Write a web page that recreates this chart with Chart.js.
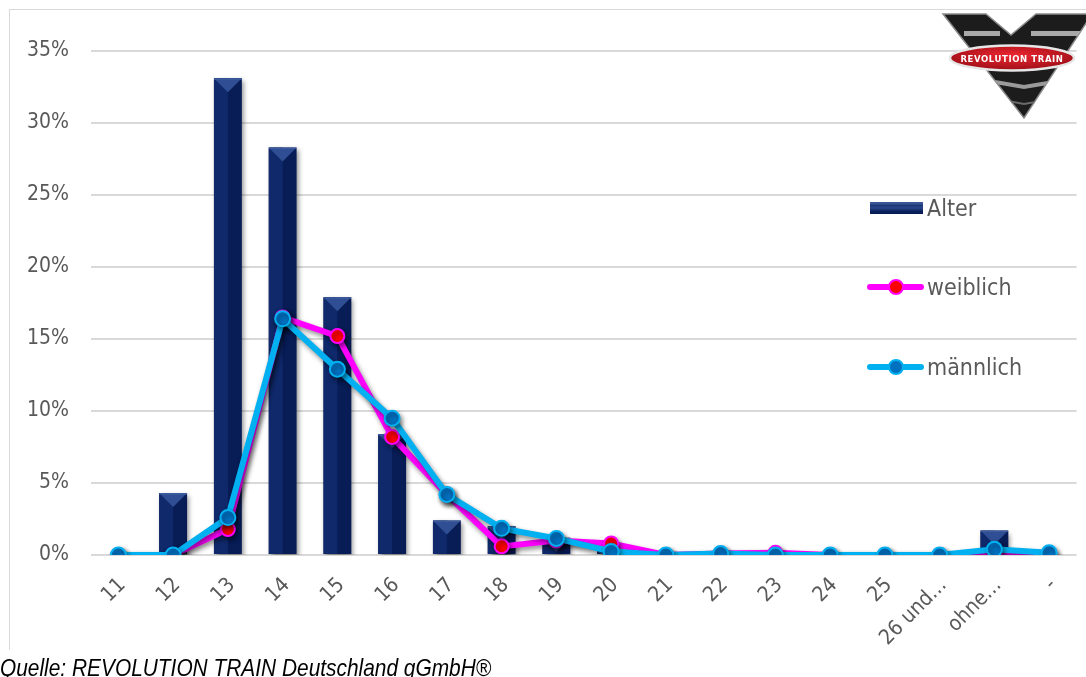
<!DOCTYPE html>
<html lang="de">
<head>
<meta charset="utf-8">
<title>Alter – weiblich / männlich</title>
<script src="https://cdn.jsdelivr.net/npm/chart.js@4.4.1/dist/chart.umd.min.js"></script>
<style>
  html, body { margin: 0; padding: 0; background: #fff; }
  body { width: 1086px; height: 677px; position: relative; overflow: hidden;
         font-family: "DejaVu Sans Condensed", "Liberation Sans Narrow", "DejaVu Sans", sans-serif; }
  #frame { position: absolute; left: 9px; top: 9px; width: 1100px; height: 640px;
           border-left: 1px solid #d9d9d9; border-top: 1px solid #d9d9d9; }
  #chart-box { position: absolute; left: 0; top: 0; width: 1086px; height: 677px; }
  .lg-text { position: absolute; left: 927px; height: 28px; line-height: 28px; font-size: 23px; color: #595959; }
  .lg-bar { position: absolute; left: 870px; top: 202px; width: 53px; height: 12px;
            background: linear-gradient(#3a5595 0, #3a5595 2px, #1b3576 3px, #2a4688 6px, #0b2160 9px, #071a52 12px); }
  .lg-line { position: absolute; left: 867px; width: 57px; height: 6px; border-radius: 3px; }
  .lg-dot { position: absolute; width: 12px; height: 12px; border-radius: 50%; border: 2px solid; }
  #source { position: absolute; left: 0; top: 654px; font-family: "Liberation Sans", sans-serif;
            font-style: italic; font-size: 24px; line-height: 28px; color: #000; white-space: nowrap;
            transform: scaleX(0.87); transform-origin: 0 0; }
  #logo { position: absolute; left: 940px; top: 12px; }
</style>
</head>
<body>
<div id="frame"></div>
<div id="chart-box"><canvas id="ageChart" width="1086" height="677"></canvas></div>

<svg id="logo" width="150" height="112" viewBox="0 0 150 112">
  <defs>
    <radialGradient id="redGrad" cx="50%" cy="40%" r="60%">
      <stop offset="0" stop-color="#ee2630"/>
      <stop offset="1" stop-color="#9e0f18"/>
    </radialGradient>
    <clipPath id="vClip">
      <polygon points="3,2 46,2 71,23 96,2 152,2 84,106"/>
    </clipPath>
  </defs>
  <polygon points="3,2 46,2 71,23 96,2 152,2 84,106" fill="#1c1c1c" stroke="#8a8a8a" stroke-width="1.5"/>
  <g clip-path="url(#vClip)">
    <rect x="24" y="19" width="36" height="5" fill="#a8a8a8"/>
    <rect x="91" y="19" width="60" height="5" fill="#a8a8a8"/>
    <polyline points="20,64 84,75 150,64" fill="none" stroke="#9a9a9a" stroke-width="4"/>
    <polyline points="30,82 84,92 140,82" fill="none" stroke="#6a6a6a" stroke-width="2"/>
  </g>
  <ellipse cx="72" cy="46" rx="62" ry="12.5" fill="url(#redGrad)" stroke="#e6e6e6" stroke-width="2.5"/>
  <text x="72" y="49.5" text-anchor="middle" font-family="DejaVu Sans" font-weight="bold" font-size="8.5" fill="#fff" letter-spacing="0.6">REVOLUTION TRAIN</text>
</svg>

<div class="lg-bar"></div>
<div class="lg-text" style="top:194px">Alter</div>
<div class="lg-line" style="top:284px;background:#ff00ff"></div>
<div class="lg-dot" style="left:888px;top:279px;background:#ff0000;border-color:#ff00ff"></div>
<div class="lg-text" style="top:273px">weiblich</div>
<div class="lg-line" style="top:364px;background:#00b0f0"></div>
<div class="lg-dot" style="left:888px;top:359px;background:#0070c0;border-color:#00b0f0"></div>
<div class="lg-text" style="top:353px">männlich</div>

<div id="source">Quelle: REVOLUTION TRAIN Deutschland gGmbH®</div>

<script>
// --- DATA ---
const ageLabels = ['11', '12', '13', '14', '15', '16', '17', '18', '19', '20',
                   '21', '22', '23', '24', '25', '26 und…', 'ohne…', '-'];
const alterValues = [0, 4.3, 33.1, 28.3, 17.9, 8.4, 2.4, 2.0, 1.2, 0.3,
                     0, 0, 0, 0, 0, 0.2, 1.7, 0];
const weiblichValues = [0, 0, 1.8, 16.5, 15.2, 8.2, 4.2, 0.6, 1.0, 0.8,
                        0, 0.1, 0.15, 0, 0, 0, 0, 0];
const maennlichValues = [0, 0, 2.6, 16.4, 12.9, 9.5, 4.2, 1.85, 1.15, 0.25,
                         0, 0.1, 0, 0, 0, 0, 0.4, 0.15];
const yTicks = [0, 5, 10, 15, 20, 25, 30, 35];

const tickFont = "'DejaVu Sans Condensed', 'Liberation Sans Narrow', 'DejaVu Sans', sans-serif";

// --- PLUGINS ---
// drop shadow under every dataset + bevelled look for the bars
const shadowPlugin = {
    id: 'shadowBevel',
    beforeDatasetDraw(chart) {
        const ctx = chart.ctx;
        ctx.save();
        ctx.shadowColor = 'rgba(0,0,0,0.45)';
        ctx.shadowBlur = 5;
        ctx.shadowOffsetX = 2;
        ctx.shadowOffsetY = 3;
    },
    afterDatasetDraw(chart, args) {
        const ctx = chart.ctx;
        ctx.restore();
        if (args.meta.type !== 'bar') return;

        args.meta.data.forEach(bar => {
            const w = bar.width;
            const left = bar.x - w / 2;
            const top = bar.y;
            const h = bar.base - bar.y;
            if (h <= 0.5) return;
            ctx.save();
            ctx.beginPath();
            ctx.rect(left, top, w, h);
            ctx.clip();
            // lighter left half
            ctx.fillStyle = '#0f296b';
            ctx.fillRect(left, top, w / 2, h);
            // top bevel triangle
            ctx.fillStyle = '#2f4e93';
            ctx.beginPath();
            ctx.moveTo(left, top);
            ctx.lineTo(left + w, top);
            ctx.lineTo(bar.x, top + w / 2);
            ctx.closePath();
            ctx.fill();
            ctx.fillStyle = '#3d5c9f';
            ctx.fillRect(left, top, w, 1.5);
            ctx.restore();
        });
    }
};

// --- CHART ---
const ctx = document.getElementById('ageChart').getContext('2d');
new Chart(ctx, {
    data: {
        labels: ageLabels,
        datasets: [
            {
                type: 'bar',
                label: 'Alter',
                data: alterValues,
                backgroundColor: '#081c55',
                borderWidth: 0,
                barPercentage: 0.51,
                categoryPercentage: 1,
                order: 3
            },
            {
                type: 'line',
                label: 'weiblich',
                data: weiblichValues,
                borderColor: '#ff00ff',
                borderWidth: 6,
                pointBackgroundColor: '#ff0000',
                pointBorderColor: '#ff00ff',
                pointBorderWidth: 2,
                pointRadius: 7,
                tension: 0,
                order: 2
            },
            {
                type: 'line',
                label: 'männlich',
                data: maennlichValues,
                borderColor: '#00b0f0',
                borderWidth: 6,
                pointBackgroundColor: '#0070c0',
                pointBorderColor: '#00b0f0',
                pointBorderWidth: 2,
                pointRadius: 7.5,
                tension: 0,
                order: 1
            }
        ]
    },
    options: {
        responsive: false,
        animation: false,
        layout: { padding: { top: 51, right: 1, bottom: 0, left: 0 } },
        plugins: {
            legend: { display: false },
            tooltip: { enabled: false }
        },
        scales: {
            x: {
                grid: { display: false },
                border: { display: false },
                ticks: {
                    autoSkip: false,
                    maxRotation: 45,
                    minRotation: 45,
                    padding: 10,
                    labelOffset: 4,
                    color: '#595959',
                    font: { family: tickFont, size: 21 }
                },
                afterFit: scale => { scale.height = 122; }
            },
            y: {
                min: 0,
                max: 35,
                grid: { color: '#d9d9d9', lineWidth: 2, drawTicks: false },
                border: { display: false },
                afterBuildTicks: scale => { scale.ticks = yTicks.map(v => ({ value: v })); },
                ticks: {
                    padding: 22,
                    color: '#595959',
                    font: { family: tickFont, size: 21 },
                    callback: v => v + '%'
                },
                afterFit: scale => { scale.width = 91; }
            }
        }
    },
    plugins: [shadowPlugin]
});
</script>
</body>
</html>
